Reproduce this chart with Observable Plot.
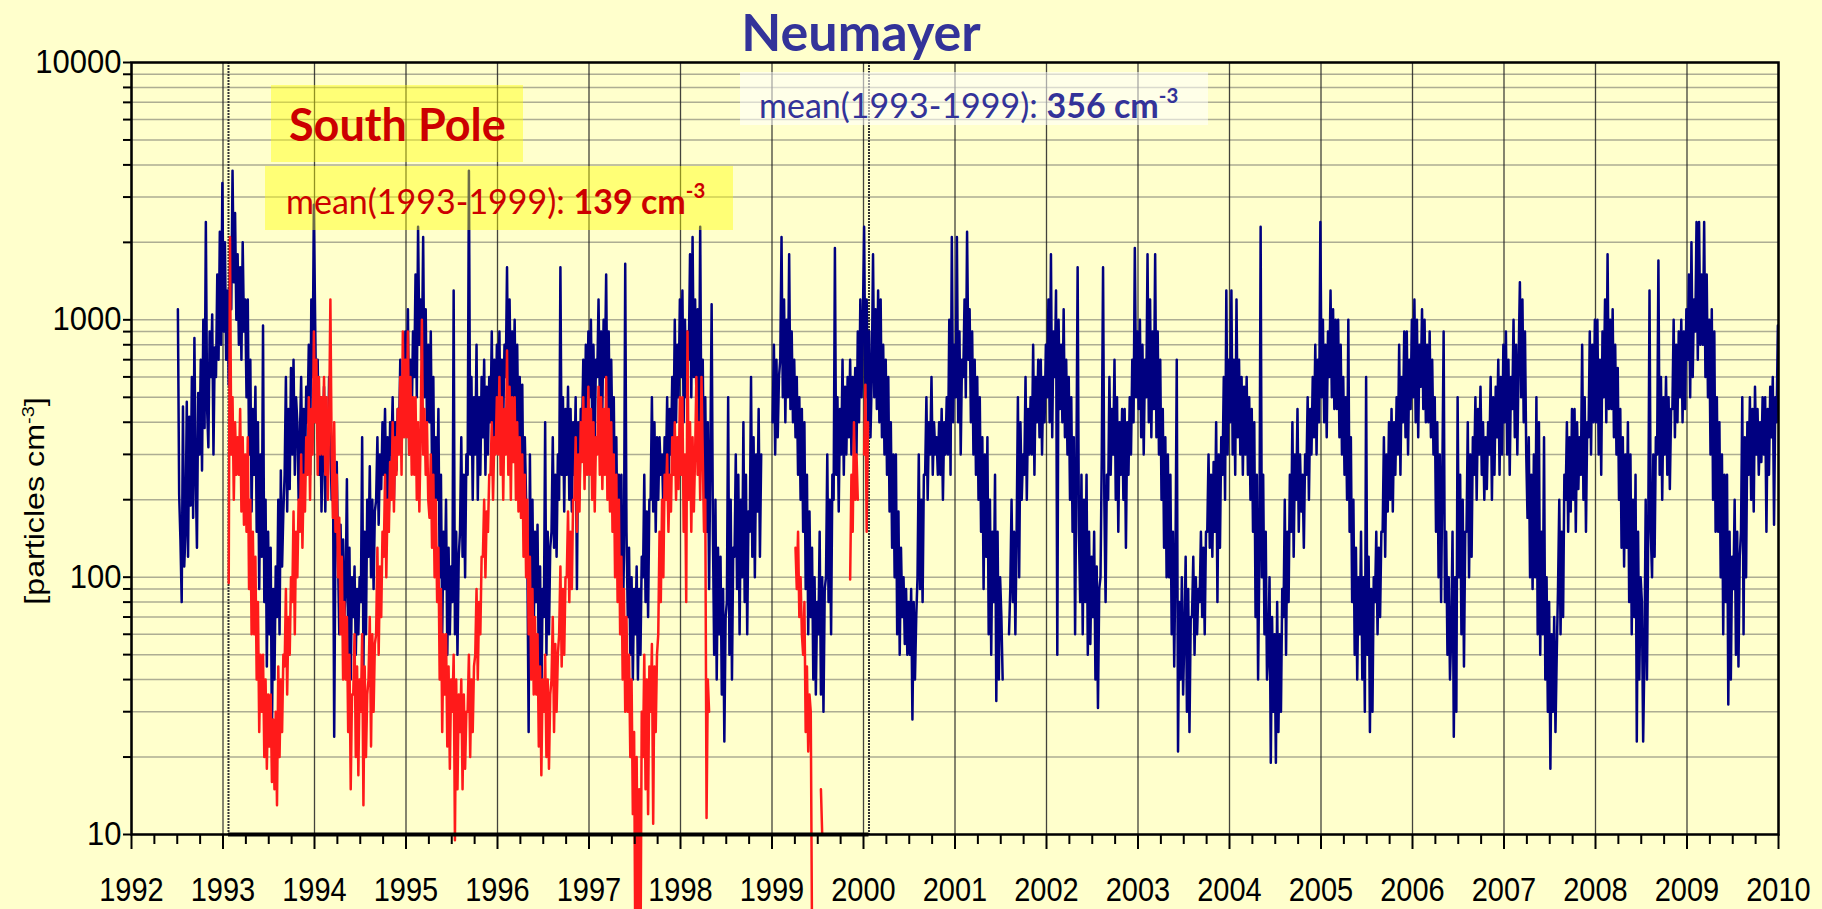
<!DOCTYPE html>
<html>
<head>
<meta charset="utf-8">
<script src="https://cdn.jsdelivr.net/npm/d3@7"></script>
<script src="https://cdn.jsdelivr.net/npm/@observablehq/plot@0.6"></script>
<style>
  html, body { margin: 0; padding: 0; background: #ffffcc; }
  #wrap { position: relative; width: 1822px; height: 909px; overflow: hidden; background: #ffffcc; }
  #wrap svg { position: absolute; left: 0; top: 0; }
  .note { position: absolute; box-sizing: border-box; white-space: nowrap; font-family: Lato, "Open Sans", sans-serif; display: flex; align-items: center; }
  .note sup { font-size: 0.6em; vertical-align: 0; position: relative; top: -0.75em; line-height: 0; }
  #title { position: absolute; left: 861px; top: 31px; transform: translate(-50%, -50%); font: bold 52px Lato, sans-serif; color: #333399; line-height: 1; white-space: nowrap; }
  #ylabel { position: absolute; left: 35px; top: 501px; transform: translate(-50%, -50%) rotate(-90deg) scaleX(1.15); font: 28px "Liberation Sans", Arial, sans-serif; color: #000; white-space: nowrap; line-height: 1; }
  #ylabel sup { font-size: 0.62em; vertical-align: 0; position: relative; top: -0.6em; line-height: 0; }
  #spName { left: 271px; top: 85px; width: 252px; height: 77px; padding-left: 18px; background: rgba(255, 255, 0, 0.42); color: #cc0000; font-weight: bold; font-size: 45px; }
  #spMean { left: 265px; top: 166px; width: 468px; height: 64px; padding-left: 21px; padding-top: 4px; background: rgba(255, 255, 0, 0.42); color: #cc0000; font-size: 34px; }
  #nmMean { left: 740px; top: 72px; width: 468px; height: 53px; padding-left: 19px; padding-top: 12px; background: rgba(255, 255, 255, 0.55); color: #333399; font-size: 34px; }
  b { font-weight: bold; }
</style>
</head>
<body>
<div id="wrap">
  <div id="title">Neumayer</div>
  <div id="ylabel">[particles cm<sup>-3</sup>]</div>
  <div class="note" id="spName">South Pole</div>
  <div class="note" id="spMean">mean(1993-1999):&nbsp;<b>139 cm<sup>-3</sup></b></div>
  <div class="note" id="nmMean">mean(1993-1999):&nbsp;<b>356 cm<sup>-3</sup></b></div>
</div>
<script>
// Axis ticks
const yearTicks = [1992, 1993, 1994, 1995, 1996, 1997, 1998, 1999, 2000, 2001, 2002, 2003, 2004, 2005, 2006, 2007, 2008, 2009, 2010];
const decadeTicks = [10, 100, 1000, 10000];
const minorMultipliers = [2, 3, 4, 5, 6, 7, 8, 9];
// Frame of the South Pole record (its own time axis, 7 years)
const southPoleSpan = [1993.06, 2000.06];

// Neumayer particle concentration, six readings per month (cm^-3)
const neumayer1992 = [ // from July 1992
  1100,210,140,80,460,110, 150,480,120,420,190,600, 170,850,250,130,520,300,
  700,260,1000,380,2400,450, 320,900,600,1050,300,780, 600,1500,700,2200,800,3400];
const neumayer1993 = [
  900,2000,700,1300,560,1600, 1100,3800,1400,2600,1000,1800, 800,1600,700,2000,900,1200,
  500,1200,300,700,180,450, 250,550,150,400,90,300, 120,950,80,200,45,150,
  60,130,24,90,40,110, 70,200,60,260,110,180, 250,600,180,450,220,650,
  300,700,250,500,400,200, 350,600,220,450,250,550, 400,800,250,1200,600,2800];
const neumayer1994 = [
  1000,400,700,250,500,180, 300,550,180,400,250,600, 350,200,300,24,150,280,
  120,60,160,80,140,70, 90,240,50,130,40,100, 70,110,50,90,60,100,
  80,350,45,150,60,200, 120,270,100,200,90,180, 200,350,160,300,220,400,
  250,450,200,350,180,400, 300,500,200,400,260,450, 350,700,300,600,400,900];
const neumayer1995 = [
  500,1100,300,700,400,900, 600,1500,500,2300,800,1200, 700,2100,500,1100,400,800,
  400,900,250,600,150,350, 200,450,100,250,60,150, 90,200,50,130,60,110,
  80,1300,60,150,50,120, 150,350,120,250,100,300, 250,3800,300,600,200,500,
  300,800,200,500,250,600, 350,700,250,550,300,600, 400,900,300,700,350,800];
const neumayer1996 = [
  500,900,350,700,400,800, 600,1600,450,1200,500,900, 500,1000,350,800,300,600,
  300,560,150,350,200,120, 25,300,80,200,60,150, 80,160,40,110,31,90,
  70,400,50,150,60,130, 150,350,130,250,120,300, 200,1600,250,500,180,450,
  250,550,200,450,180,400, 250,500,90,400,200,450, 350,700,300,800,400,900];
const neumayer1997 = [
  500,1000,400,800,350,700, 600,1200,500,900,450,1000, 600,1500,400,900,350,700,
  300,500,150,350,120,250, 100,250,60,120,1650,150, 70,130,50,100,40,90,
  60,110,40,90,50,120, 100,250,80,180,70,200, 200,500,180,400,150,350,
  200,350,250,300,180,350, 250,500,200,450,300,600, 350,1000,400,800,500,1200];
const neumayer1998 = [
  600,1300,400,1000,500,900, 700,1800,500,2100,600,1200, 500,1100,400,2300,300,700,
  200,500,150,400,90,300, 1150,150,50,200,40,130, 60,120,35,90,23,70,
  80,500,50,200,40,130, 120,300,90,250,60,200, 100,400,80,250,60,180,
  150,600,120,350,100,300, 180,450,120,300,null,null, null,null,null,null,null,null];
const neumayer1999 = [
  400,800,300,700,350,600, 700,2100,500,1200,400,1000, 500,1800,450,900,400,700,
  350,600,250,500,200,450, 150,400,90,250,60,180, 70,130,40,100,35,80,
  60,150,35,100,30,90, 100,300,80,200,60,250, 200,1900,250,500,180,450,
  300,700,250,550,300,600, 350,700,300,600,400,650, 300,900,400,1200,500,1000];
const neumayer2000 = [
  2300,500,1200,400,900,350, 600,1800,500,1100,450,1300, 400,1200,350,800,300,700,
  250,600,180,400,130,300, 100,300,60,180,50,130, 70,100,55,90,50,80,
  50,90,28,80,40,70, 100,300,90,200,80,250, 250,500,200,400,300,600,
  250,400,300,350,250,400, 250,450,200,400,300,500, 300,1000,250,2100,400,800];
const neumayer2001 = [
  500,2100,400,900,300,700, 600,1200,500,2200,700,1100, 400,900,300,700,250,600,
  200,500,150,350,90,300, 120,350,60,200,50,150, 80,250,33,150,40,100,
  70,40,null,null,null,null, 60,90,200,80,150,60, 150,500,100,400,200,300,
  250,600,200,450,300,500, 300,800,250,600,400,700, 350,700,300,600,400,800];
const neumayer2002 = [
  500,1200,400,1800,350,900, 600,1300,50,1000,450,800, 400,1100,350,700,300,600,
  200,500,150,350,60,250, 1600,150,80,250,60,200, 80,250,50,150,55,120,
  70,150,40,110,31,90, 100,300,1600,200,80,250, 200,600,250,450,300,700,
  200,500,150,400,250,450, 200,450,130,400,250,500, 300,700,400,1900,500,900];
const neumayer2003 = [
  450,1000,350,800,300,700, 500,1800,400,1200,350,900, 450,1800,350,900,300,700,
  200,450,130,350,100,300, 100,250,60,150,45,120, 700,21,80,40,100,35,
  60,120,30,90,25,70, 70,120,50,100,60,90, 80,150,70,130,60,150,
  150,300,130,250,120,280, 150,400,80,300,130,350, 250,600,200,1300,300,700];
const neumayer2004 = [
  400,1300,300,700,250,1200, 350,700,300,600,250,550, 300,600,250,500,200,450,
  150,400,70,250,40,120, 2300,100,250,60,150,40, 50,100,19,70,30,60,
  19,80,25,60,30,90, 70,200,50,150,80,250, 150,400,120,300,200,450,
  150,300,180,250,130,300, 250,500,200,450,300,600, 350,800,300,700,400,2400];
const neumayer2005 = [
  500,1000,400,800,350,900, 600,1300,500,1100,450,1000, 450,1000,350,800,300,600,
  250,500,200,1000,150,350, 80,200,50,130,40,100, 60,150,40,100,30,600,
  50,120,25,90,30,100, 80,150,60,130,70,150, 150,350,120,300,180,400,
  200,450,180,400,250,500, 300,800,250,600,400,900, 350,900,300,700,450,1000];
const neumayer2006 = [
  500,1200,400,1000,350,800, 550,1100,450,1000,400,800, 400,900,350,700,300,500,
  150,400,100,300,80,250, 900,80,150,50,100,40, 60,150,24,100,30,500,
  100,250,60,200,45,150, 150,400,100,300,120,350, 250,500,200,450,300,550,
  250,400,200,350,220,400, 300,600,200,500,250,550, 350,700,250,600,300,800];
const neumayer2007 = [
  400,900,300,700,250,600, 450,1000,350,800,300,700, 1400,500,1200,400,900,300,
  170,350,100,250,90,300, 100,500,60,400,50,150, 60,350,40,100,30,80,
  18,60,30,70,25,50, 90,200,60,150,70,250, 200,400,150,350,180,450,
  200,450,150,400,220,350, 250,800,200,500,150,400, 350,900,300,800,400,1000];
const neumayer2008 = [
  400,1000,300,700,250,900, 500,1200,400,1800,450,1000, 450,1100,350,800,300,650,
  200,450,130,350,110,300, 130,400,80,300,60,200, 70,250,23,150,40,100,
  80,23,50,200,40,150, 1300,150,100,300,120,350, 300,1700,250,600,200,500,
  300,600,250,500,220,450, 450,1000,350,800,400,900, 500,1000,400,900,450,1100];
const neumayer2009 = [
  700,1500,500,2000,600,1200, 900,2400,700,2400,800,1500, 800,2400,600,1500,500,1000,
  300,1100,200,900,150,500, 150,400,100,300,60,250, 80,250,32,150,40,120,
  90,200,50,150,45,120, 150,500,60,350,100,400, 250,500,200,450,180,550,
  300,450,250,400,280,500, 300,500,150,450,250,550, 350,600,160,500,400,950];

// South Pole particle concentration, six readings per month (cm^-3)
const southPole1993 = [
  null,null,null,null,95,2100, 300,500,200,400,250,350, 250,450,180,350,160,300,
  150,350,90,200,60,150, 60,120,40,80,25,50, 30,50,20,40,18,35,
  22,35,16,28,15,30, 13,45,20,40,25,50, 45,90,35,70,50,100,
  80,180,60,150,100,200, 150,300,130,250,180,350, 250,500,200,450,300,900];
const southPole1994 = [
  400,700,250,600,300,500, 300,600,250,500,200,400, 1200,300,170,400,150,250,
  100,170,60,120,40,80, 40,70,25,50,15,35, 35,60,20,45,17,40,
  30,60,13,45,20,35, 40,70,22,60,30,55, 60,130,50,110,70,150,
  120,250,100,200,150,280, 200,400,180,350,250,450, 300,600,250,900,350,700];
const southPole1995 = [
  350,900,300,600,250,500, 250,500,200,400,180,350, 1000,300,450,250,400,200,
  170,300,130,250,100,200, 80,130,40,90,25,60, 35,60,22,45,18,40,
  30,50,9.5,40,15,35, 25,40,15,35,18,30, 30,50,20,40,25,45,
  50,90,40,80,60,120, 120,200,100,180,150,250, 250,400,200,350,300,500];
const southPole1996 = [
  300,600,250,500,200,450, 300,760,250,550,200,500, 280,500,200,400,180,350,
  170,300,120,250,100,200, 60,120,40,90,35,70, 35,60,22,45,17,40,
  30,50,20,40,18,35, 40,70,25,55,30,50, 60,110,45,90,50,100,
  100,180,80,150,90,200, 200,350,150,300,180,400, 280,500,220,450,250,550];
const southPole1997 = [
  250,450,200,400,180,350, 300,550,250,500,220,450, 250,600,200,450,180,400,
  150,300,100,250,80,200, 60,120,40,90,30,70, 30,50,20,40,12,25,
  3,20,4,15,3,30, 20,50,15,40,12,45, 30,55,11,45,25,50,
  60,150,80,200,100,250, 200,300,150,250,180,350, 250,400,200,350,220,500];
const southPole1998 = [ // January to April
  250,500,150,300,80,900, 200,400,150,350,180,300, 600,250,400,200,600,300,
  150,200,11.6,40,30,null];
const southPole1999 = [
  null,null,null,null,null,null, null,null,null,null,null,null, null,null,null,null,null,null,
  130,90,150,70,100,60, 50,80,25,45,21,35, 30,4,null,null,null,null,
  null,null,15,10,null,null, null,null,null,null,null,null, null,null,null,null,null,null,
  null,null,null,null,null,null, null,98,250,150,400,200, 300,200,null,null,null,null];
const southPole2000 = [300,560,150,400]; // early January

const readingsPerYear = 72;
function toSeries(chunks) {
  const rows = [];
  for (const [start, values] of chunks) {
    values.forEach((v, i) => rows.push({t: start + (i + 0.5) / readingsPerYear, v}));
  }
  return rows;
}

const neumayer = toSeries([
  [1992.5, neumayer1992], [1993, neumayer1993], [1994, neumayer1994], [1995, neumayer1995],
  [1996, neumayer1996], [1997, neumayer1997], [1998, neumayer1998], [1999, neumayer1999],
  [2000, neumayer2000], [2001, neumayer2001], [2002, neumayer2002], [2003, neumayer2003],
  [2004, neumayer2004], [2005, neumayer2005], [2006, neumayer2006], [2007, neumayer2007],
  [2008, neumayer2008], [2009, neumayer2009]
]);
const southPole = toSeries([
  [1993, southPole1993], [1994, southPole1994], [1995, southPole1995], [1996, southPole1996],
  [1997, southPole1997], [1998, southPole1998], [1999, southPole1999], [2000, southPole2000]
]);

const minorY = decadeTicks.slice(0, -1).flatMap(d => minorMultipliers.map(m => d * m));
const quarterTicks = yearTicks.slice(0, -1).flatMap(y => [0.25, 0.5, 0.75].map(q => y + q));

const chart = Plot.plot({
  width: 1822,
  height: 909,
  marginTop: 62,
  marginLeft: 131,
  marginRight: 44,
  marginBottom: 75,
  style: {background: "none", fontFamily: "'Liberation Sans', Arial, sans-serif", overflow: "visible", color: "#000"},
  x: {domain: [1992, 2010]},
  y: {type: "log", domain: [10, 10000]},
  marks: [
    Plot.gridY([...minorY, ...decadeTicks], {stroke: "#8a8a7a", strokeOpacity: 0.7, strokeWidth: 1.5}),
    Plot.gridX(yearTicks, {stroke: "#222", strokeOpacity: 0.85, strokeWidth: 1.3}),
    Plot.ruleX(southPoleSpan, {stroke: "#333", strokeWidth: 2, strokeDasharray: "2,1"}),
    Plot.line(neumayer, {x: "t", y: "v", stroke: "#000080", strokeWidth: 2.5}),
    Plot.line(southPole, {x: "t", y: "v", stroke: "#ff1a1a", strokeWidth: 2.5}),
    Plot.ruleY([10], {x1: southPoleSpan[0], x2: southPoleSpan[1], stroke: "#000", strokeWidth: 4}),
    Plot.frame({stroke: "#000", strokeWidth: 2.5}),
    Plot.axisX({ticks: yearTicks, tickSize: 15, tickPadding: 28, tickFormat: d => String(d), label: null, fontSize: 29, strokeWidth: 2}),
    Plot.axisX({ticks: quarterTicks, tickSize: 10, tickFormat: () => "", label: null, strokeWidth: 2}),
    Plot.axisY({ticks: decadeTicks, tickSize: 8, tickPadding: 2, tickFormat: d => String(d), label: null, fontSize: 31, strokeWidth: 2}),
    Plot.axisY({ticks: minorY, tickSize: 8, tickFormat: () => "", label: null, strokeWidth: 2})
  ]
});

// Tick labels are set in a tall, narrow face: stretch them vertically in place.
function stretchLabels(selector, sy) {
  chart.querySelectorAll(selector).forEach(t => {
    let tr = t.getAttribute("transform");
    if (!tr) {
      const x = +t.getAttribute("x") || 0, y = +t.getAttribute("y") || 0;
      t.setAttribute("x", 0); t.setAttribute("y", 0);
      tr = `translate(${x},${y})`;
    }
    t.setAttribute("transform", `${tr} scale(1,${sy})`);
  });
}
stretchLabels('g[aria-label="x-axis tick label"] text', 1.15);
stretchLabels('g[aria-label="y-axis tick label"] text', 1.05);

document.getElementById("wrap").prepend(chart);
</script>
</body>
</html>
